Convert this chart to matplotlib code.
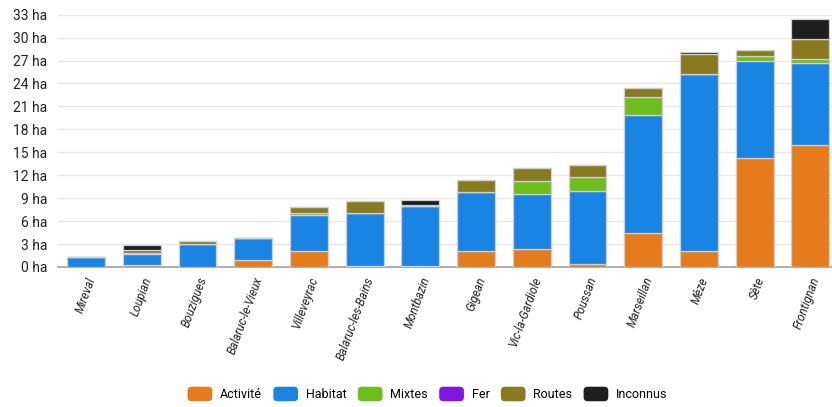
import matplotlib.pyplot as plt
import numpy as np
from matplotlib.patches import FancyBboxPatch
from matplotlib.legend_handler import HandlerPatch
from matplotlib.ticker import FuncFormatter

# surfaces consommées par commune (ha)
communes = ['Mireval', 'Loupian', 'Bouzigues', 'Balaruc-le-Vieux', 'Villeveyrac',
            'Balaruc-les-Bains', 'Montbazin', 'Gigean', 'Vic-la-Gardiole', 'Poussan',
            'Marseillan', 'Mèze', 'Sète', 'Frontignan']

activite = [0.0, 0.25, 0.0, 0.95, 2.1, 0.1, 0.1, 2.1, 2.3, 0.45, 4.45, 2.1, 14.3, 16.0]
habitat = [1.25, 1.45, 3.0, 2.85, 4.7, 6.9, 7.85, 7.75, 7.3, 9.45, 15.4, 23.1, 12.6, 10.7]
mixtes = [0.0, 0.15, 0.0, 0.0, 0.2, 0.0, 0.0, 0.0, 1.7, 1.85, 2.4, 0.05, 0.7, 0.55]
fer = [0.0] * 14
routes = [0.0, 0.35, 0.35, 0.05, 0.9, 1.65, 0.15, 1.5, 1.7, 1.6, 1.2, 2.6, 0.8, 2.55]
inconnus = [0.0, 0.7, 0.0, 0.0, 0.0, 0.0, 0.65, 0.0, 0.0, 0.0, 0.0, 0.25, 0.0, 2.6]

series = [('Activité', activite, '#E67C1B'),
          ('Habitat', habitat, '#1A84E5'),
          ('Mixtes', mixtes, '#6DBE1D'),
          ('Fer', fer, '#7F16E4'),
          ('Routes', routes, '#8A7A1F'),
          ('Inconnus', inconnus, '#1E1E1E')]

plt.rcParams['font.family'] = ['Roboto', 'DejaVu Sans']

fig = plt.figure(figsize=(8.32, 4.07), dpi=100)
ax = fig.add_axes([0.07, 0.344, 0.9375, 0.62])

x = np.arange(len(communes))
bottom = np.zeros(len(communes))
handles = []
for name, vals, color in series:
    vals = np.array(vals)
    ax.bar(x, vals, 0.68, bottom=bottom, color=color, edgecolor='#d0d0d0',
           linewidth=0.9, zorder=3)
    bottom += vals
    handles.append(plt.Rectangle((0, 0), 1, 1, color=color, label=name))


class RoundHandler(HandlerPatch):
    def create_artists(self, legend, orig_handle, xdescent, ydescent,
                       width, height, fontsize, trans):
        p = FancyBboxPatch((-xdescent + 1, -ydescent - 1.5), width - 2, height + 3,
                           boxstyle='round,pad=0,rounding_size=3',
                           facecolor=orig_handle.get_facecolor(),
                           edgecolor='none', transform=trans)
        return [p]


ax.set_xlim(-0.5, 13.5)
ax.set_ylim(0, 33)
ax.set_yticks(np.arange(0, 34, 3))
ax.yaxis.set_major_formatter(FuncFormatter(lambda v, p: f'{int(v)} ha'))
ax.grid(axis='y', color='#e8e8e8', linewidth=1, zorder=0)
for s in ['top', 'right', 'left']:
    ax.spines[s].set_visible(False)
ax.spines['bottom'].set_color('#a0a0a0')
ax.spines['bottom'].set_linewidth(1.2)
ax.tick_params(axis='y', length=0, labelsize=10, labelcolor='#222222', pad=8)
ax.tick_params(axis='x', length=0, pad=6)
ax.set_xticks(x)
ax.set_xticklabels(communes, rotation=70, ha='right', rotation_mode='anchor',
                   fontsize=8.5, style='italic', color='#222222')

fig.legend(handles=handles, loc='center', bbox_to_anchor=(0.513, 0.03),
           ncol=6, frameon=False, fontsize=9, handlelength=2.2, handleheight=0.9,
           handletextpad=0.5, columnspacing=0.8,
           handler_map={plt.Rectangle: RoundHandler()})

fig.savefig('out.png', dpi=100)
